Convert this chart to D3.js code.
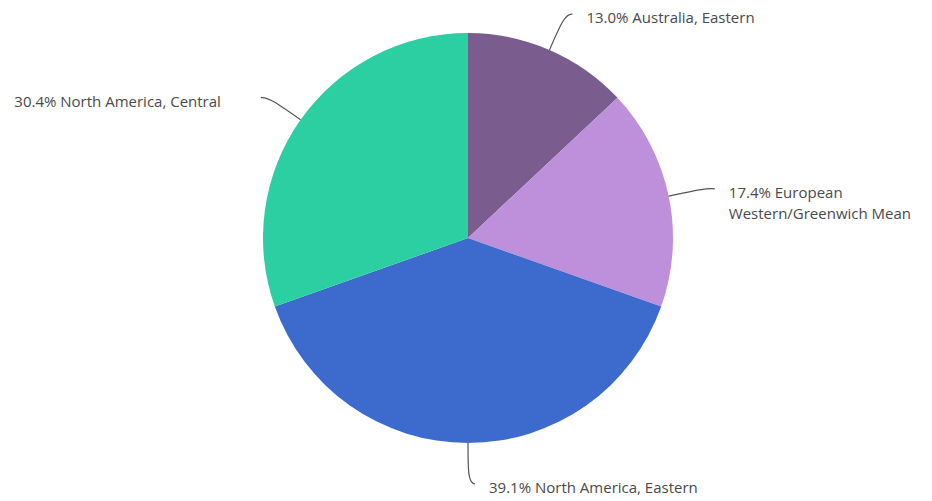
<!DOCTYPE html>
<html>
<head>
<meta charset="utf-8">
<script src="https://cdn.jsdelivr.net/npm/d3@7"></script>
<style>
  body { margin: 0; background: #fff; }
  svg text { font-family: "Open Sans", Lato, sans-serif; font-size: 15px; fill: #4a4a4a; }
</style>
</head>
<body>
<svg id="chart"></svg>
<script>
// data
const categories = ["Australia, Eastern", "European Western/Greenwich Mean", "North America, Eastern", "North America, Central"];
const labelLines = [["13.0% Australia, Eastern"], ["17.4% European", "Western/Greenwich Mean"], ["39.1% North America, Eastern"], ["30.4% North America, Central"]];
const values = [13.0, 17.4, 39.1, 30.4];
const colors = ["#7a5c8e", "#be8fdb", "#3d6bcd", "#2ccfa2"];

const width = 932, height = 501;
const cx = 468, cy = 238, radius = 205;

const svg = d3.select("#chart")
    .attr("width", width)
    .attr("height", height);

const g = svg.append("g")
    .attr("transform", `translate(${cx},${cy})`);

const pie = d3.pie().sort(null).value(d => d.value);
const arcs = pie(values.map((v, i) => ({ value: v, name: categories[i], lines: labelLines[i], color: colors[i] })));

const arc = d3.arc().innerRadius(0).outerRadius(radius);

g.selectAll("path.slice")
    .data(arcs)
    .enter()
    .append("path")
    .attr("class", "slice")
    .attr("d", arc)
    .attr("fill", d => d.data.color);

// point on circle at angle a (0 = top, clockwise)
function pt(a, r) {
    return [Math.sin(a) * r, -Math.cos(a) * r];
}

// leader lines + labels
arcs.forEach(d => {
    const mid = (d.startAngle + d.endAngle) / 2;
    const side = Math.sin(mid) >= 0 ? 1 : -1;
    const p0 = pt(mid, radius);
    const p1 = pt(mid, radius + 28);
    const p2 = pt(mid, radius + 40);
    const p3 = [p2[0] + side * 7, p2[1] + 1];
    g.append("path")
        .attr("d", `M${p0[0]},${p0[1]} C${p1[0]},${p1[1]} ${p2[0]},${p2[1]} ${p3[0]},${p3[1]}`)
        .attr("fill", "none")
        .attr("stroke", "#555")
        .attr("stroke-width", 1.2);
    const tx = side > 0 ? p3[0] + 14 : p3[0] - 40;
    const t = g.append("text")
        .attr("x", tx)
        .attr("y", p3[1] + 9)
        .attr("text-anchor", side > 0 ? "start" : "end");
    d.data.lines.forEach((line, i) => {
        t.append("tspan")
            .attr("x", tx)
            .attr("dy", i === 0 ? 0 : 21)
            .text(line);
    });
});
</script>
</body>
</html>
